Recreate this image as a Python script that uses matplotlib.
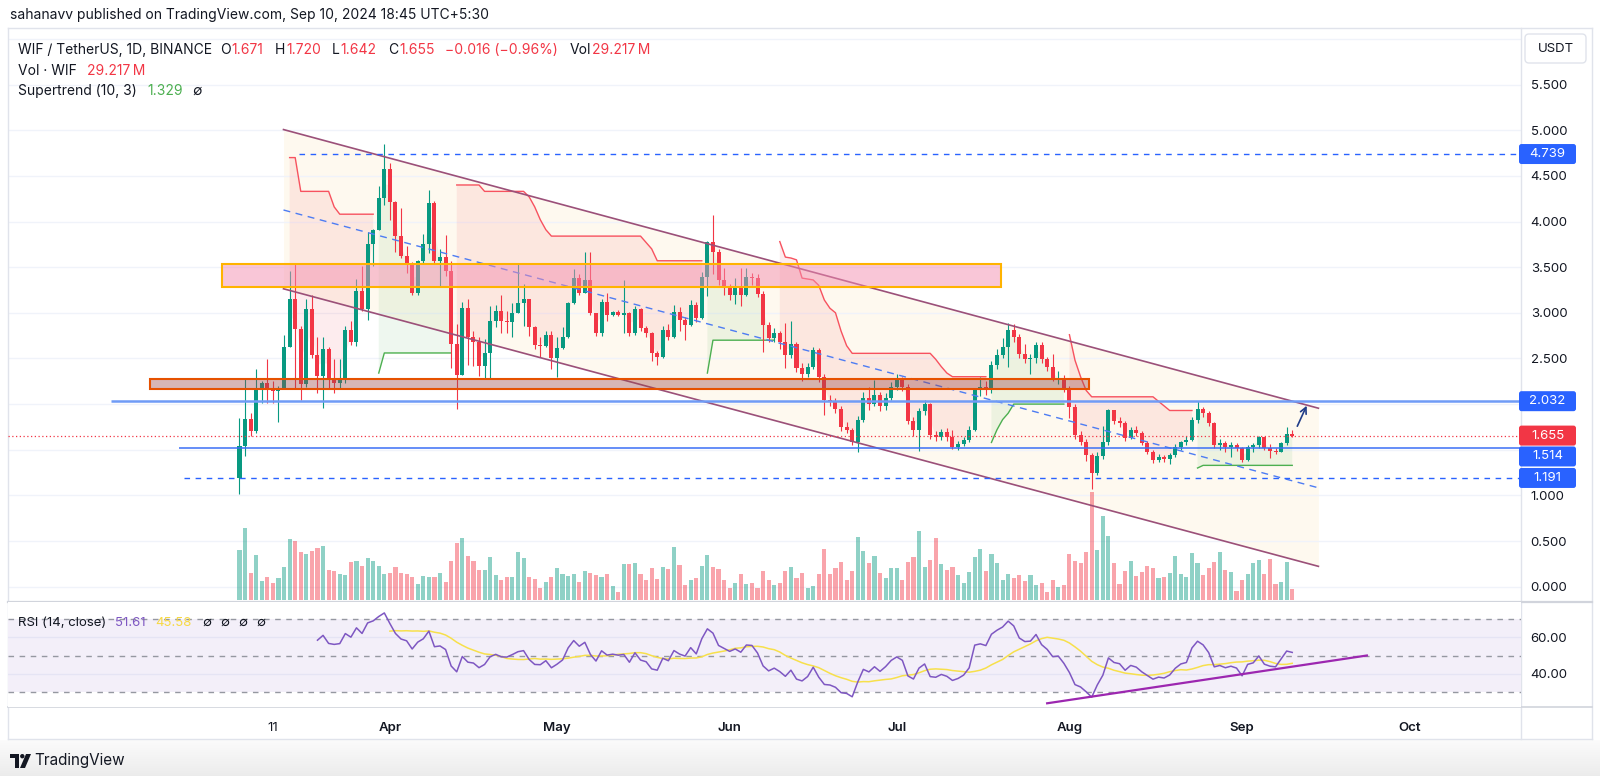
import numpy as np
import pandas as pd
import matplotlib
matplotlib.use("Agg")
import matplotlib.pyplot as plt
from matplotlib.patches import Rectangle, FancyBboxPatch, Polygon, Circle
from matplotlib.transforms import IdentityTransform
from matplotlib.lines import Line2D

plt.rcParams["font.family"] = ["Inter", "DejaVu Sans"]

# WIF / USDT daily candles (Binance), first bar = 2024-03-05
START = "2024-03-05"
first_open = 1.19
closes = [
    1.54, 1.84, 1.70, 2.15, 2.23, 2.17, 2.14, 2.18, 2.63, 3.15,
    2.82, 2.22, 3.04, 2.54, 2.31, 2.60, 2.27, 2.23, 2.27, 2.81,
    2.68, 3.24, 3.04, 3.75, 3.91, 4.26, 4.57, 4.21, 3.84, 3.62,
    3.55, 3.22, 3.57, 3.75, 4.20, 3.57, 3.61, 3.46, 2.66, 2.32,
    3.05, 2.73, 2.68, 2.42, 2.56, 2.91, 3.02, 2.91, 2.90, 3.00,
    3.11, 3.15, 2.84, 2.65, 2.64, 2.76, 2.51, 2.61, 2.73, 3.11,
    3.38, 3.22, 3.36, 3.00, 2.78, 3.12, 2.98, 3.01, 2.98, 3.00,
    2.78, 3.04, 2.83, 2.78, 2.56, 2.52, 2.81, 2.74, 3.01, 2.92,
    2.87, 3.09, 2.94, 3.39, 3.77, 3.67, 3.36, 3.28, 3.20, 3.27,
    3.19, 3.39, 3.38, 3.21, 2.87, 2.72, 2.78, 2.68, 2.54, 2.66,
    2.39, 2.33, 2.41, 2.59, 2.30, 2.05, 2.03, 1.95, 1.75, 1.72,
    1.59, 1.83, 2.07, 2.00, 2.10, 1.98, 2.07, 2.19, 2.26, 2.19,
    1.81, 1.72, 1.92, 2.00, 1.66, 1.64, 1.69, 1.64, 1.53, 1.56,
    1.61, 1.72, 2.16, 2.19, 2.16, 2.43, 2.54, 2.63, 2.81, 2.74,
    2.55, 2.49, 2.50, 2.65, 2.49, 2.41, 2.28, 2.29, 2.16, 1.97,
    1.66, 1.59, 1.44, 1.25, 1.43, 1.59, 1.93, 1.82, 1.79, 1.63,
    1.72, 1.68, 1.57, 1.48, 1.39, 1.42, 1.40, 1.44, 1.53, 1.59,
    1.61, 1.83, 1.95, 1.90, 1.79, 1.55, 1.57, 1.53, 1.55, 1.52,
    1.39, 1.53, 1.55, 1.64, 1.52, 1.49, 1.48, 1.57, 1.671, 1.655,
]
highs = [
    1.85, 2.29, 1.90, 2.38, 2.25, 2.49, 2.25, 2.20, 2.76, 3.46,
    3.55, 2.85, 3.15, 3.20, 2.74, 2.74, 2.62, 2.49, 2.49, 2.85,
    2.91, 3.37, 3.51, 3.88, 3.92, 4.39, 4.85, 4.64, 4.22, 4.15,
    3.73, 3.56, 3.58, 3.86, 4.34, 4.22, 3.70, 3.85, 3.57, 2.88,
    3.12, 3.15, 2.80, 2.73, 2.71, 3.07, 3.09, 3.20, 3.02, 3.11,
    3.55, 3.32, 3.15, 2.86, 2.74, 2.80, 2.80, 2.73, 2.84, 3.12,
    3.48, 3.42, 3.67, 3.67, 3.00, 3.15, 3.22, 3.02, 3.03, 3.36,
    3.01, 3.07, 3.05, 2.86, 2.79, 2.58, 2.85, 2.88, 3.08, 3.06,
    2.95, 3.14, 3.12, 3.45, 3.79, 4.07, 3.70, 3.49, 3.32, 3.38,
    3.49, 3.49, 3.44, 3.43, 3.24, 2.90, 2.83, 2.80, 2.89, 2.91,
    2.68, 2.45, 2.45, 2.63, 2.61, 2.33, 2.10, 2.07, 1.98, 1.80,
    1.74, 1.87, 2.13, 2.19, 2.26, 2.13, 2.12, 2.24, 2.33, 2.30,
    2.22, 1.86, 1.96, 2.05, 2.01, 1.70, 1.73, 1.74, 1.72, 1.60,
    1.64, 1.76, 2.18, 2.30, 2.25, 2.47, 2.60, 2.72, 2.89, 2.88,
    2.77, 2.66, 2.55, 2.68, 2.68, 2.52, 2.55, 2.36, 2.32, 2.20,
    2.00, 1.70, 1.62, 1.46, 1.48, 1.76, 1.95, 1.94, 1.86, 1.82,
    1.75, 1.76, 1.70, 1.60, 1.50, 1.45, 1.44, 1.46, 1.56, 1.60,
    1.65, 1.86, 2.03, 1.97, 1.92, 1.80, 1.62, 1.60, 1.58, 1.57,
    1.53, 1.55, 1.57, 1.65, 1.64, 1.56, 1.52, 1.59, 1.75, 1.72,
]
lows = [
    1.01, 1.43, 1.65, 1.68, 2.01, 2.01, 2.01, 1.80, 2.16, 2.63,
    2.16, 2.05, 2.19, 2.50, 2.12, 1.96, 2.18, 2.12, 2.17, 2.23,
    2.65, 2.64, 3.02, 2.92, 3.51, 3.91, 4.18, 4.02, 3.67, 3.60,
    3.44, 3.20, 3.20, 3.55, 3.66, 3.53, 3.29, 3.40, 2.40, 1.95,
    2.32, 2.43, 2.42, 2.31, 2.27, 2.27, 2.84, 2.78, 2.78, 2.74,
    3.00, 2.85, 2.75, 2.60, 2.52, 2.62, 2.38, 2.30, 2.60, 2.72,
    3.10, 3.20, 3.22, 2.98, 2.75, 2.75, 2.91, 2.96, 2.96, 2.78,
    2.75, 2.76, 2.80, 2.74, 2.47, 2.43, 2.50, 2.70, 2.72, 2.80,
    2.70, 2.85, 2.90, 2.93, 3.18, 3.42, 3.30, 3.20, 3.14, 3.10,
    3.07, 3.18, 3.30, 3.17, 2.57, 2.68, 2.68, 2.60, 2.39, 2.50,
    2.35, 2.25, 2.30, 2.38, 2.24, 1.88, 1.98, 1.90, 1.71, 1.68,
    1.55, 1.48, 1.80, 1.93, 1.98, 1.92, 1.93, 2.04, 2.15, 2.14,
    1.78, 1.65, 1.49, 1.88, 1.62, 1.60, 1.61, 1.60, 1.51, 1.50,
    1.54, 1.59, 1.70, 2.09, 2.10, 2.12, 2.38, 2.50, 2.41, 2.68,
    2.50, 2.45, 2.33, 2.45, 2.45, 2.36, 2.25, 2.22, 2.13, 1.85,
    1.62, 1.55, 1.38, 1.07, 1.22, 1.40, 1.55, 1.78, 1.75, 1.60,
    1.62, 1.65, 1.55, 1.45, 1.35, 1.37, 1.37, 1.34, 1.42, 1.50,
    1.55, 1.60, 1.79, 1.86, 1.76, 1.52, 1.50, 1.48, 1.42, 1.49,
    1.37, 1.38, 1.48, 1.52, 1.50, 1.41, 1.45, 1.47, 1.55, 1.642,
]
# volume in millions of WIF
volumes = [
    136, 196, 75, 123, 53, 64, 46, 59, 89, 166,
    160, 132, 126, 135, 141, 147, 81, 78, 70, 68,
    104, 106, 93, 115, 106, 94, 70, 75, 89, 73,
    70, 64, 44, 65, 62, 64, 73, 49, 107, 156,
    169, 120, 107, 83, 81, 118, 68, 55, 62, 62,
    131, 114, 64, 58, 33, 50, 62, 87, 70, 66,
    70, 49, 78, 75, 69, 62, 71, 38, 23, 99,
    97, 101, 71, 55, 87, 56, 91, 85, 146, 96,
    41, 55, 59, 93, 123, 89, 84, 55, 32, 46,
    70, 44, 46, 33, 78, 54, 40, 46, 80, 89,
    59, 75, 34, 38, 71, 139, 71, 86, 105, 55,
    79, 171, 134, 102, 120, 73, 59, 86, 87, 55,
    105, 118, 189, 89, 109, 169, 98, 82, 89, 69,
    46, 76, 118, 138, 79, 126, 102, 55, 71, 59,
    68, 51, 69, 40, 46, 23, 55, 36, 40, 126,
    106, 102, 131, 295, 136, 228, 175, 102, 44, 80,
    107, 66, 76, 94, 87, 60, 62, 73, 120, 71,
    63, 127, 102, 69, 87, 105, 131, 82, 76, 25,
    55, 71, 100, 108, 71, 111, 44, 50, 104, 29.217,
]
# Supertrend (10, 3) line as drawn, first 9 bars empty
supertrend = [
    None, None, None, None, None, None, None, None, None,
    4.70, 4.70, 4.33, 4.33, 4.33, 4.33, 4.33, 4.33, 4.16, 4.08,
    4.08, 4.08, 4.08, 4.08, 4.08, 4.08,
    2.34, 2.56, 2.56, 2.56, 2.56, 2.56, 2.56, 2.56, 2.56, 2.56,
    2.56, 2.56, 2.56, 2.56,
    4.40, 4.40, 4.40, 4.40, 4.40, 4.33, 4.33, 4.33, 4.33, 4.33,
    4.33, 4.33, 4.33, 4.27, 4.16, 4.02, 3.91, 3.84, 3.84, 3.84,
    3.84, 3.84, 3.84, 3.84, 3.84, 3.84, 3.84, 3.84, 3.84, 3.84,
    3.84, 3.84, 3.84, 3.84, 3.77, 3.70, 3.57, 3.57, 3.57, 3.57,
    3.57, 3.57, 3.57, 3.57, 3.57,
    2.34, 2.70, 2.70, 2.70, 2.70, 2.70, 2.70, 2.70, 2.70, 2.70,
    2.70, 2.70, 2.70,
    3.78, 3.61, 3.60, 3.58, 3.38, 3.37, 3.36, 3.30, 3.14, 3.05,
    3.00, 2.80, 2.64, 2.556, 2.556, 2.556, 2.556, 2.556, 2.556, 2.556,
    2.556, 2.556, 2.556, 2.556, 2.556, 2.556, 2.556, 2.556, 2.49, 2.41,
    2.34, 2.30, 2.30, 2.30, 2.30, 2.30, 2.30, 2.30,
    1.58, 1.72, 1.83, 1.90, 2.00, 2.00, 2.00, 2.00, 2.00, 2.00,
    2.00, 2.00, 2.00, 2.00,
    2.76, 2.48, 2.30, 2.15, 2.08, 2.08, 2.08, 2.08, 2.08, 2.08,
    2.08, 2.08, 2.08, 2.08, 2.08, 2.08, 2.03, 1.98, 1.93, 1.93,
    1.93, 1.93, 1.93,
    1.30, 1.329, 1.329, 1.329, 1.329, 1.329, 1.329, 1.329, 1.329, 1.329,
    1.329, 1.329, 1.329, 1.329, 1.329, 1.329, 1.329, 1.329,
]
st_green_runs = [(25, 38), (84, 96), (135, 148), (172, 189)]

tick_dates = ["2024-03-11", "2024-04-01", "2024-05-01", "2024-06-01",
              "2024-07-01", "2024-08-01", "2024-09-01", "2024-10-01"]
tick_names = ["11", "Apr", "May", "Jun", "Jul", "Aug", "Sep", "Oct"]

# drawings (bar index, price)
channel_x = [7.9, 193.7]
channel_top = [5.007, 1.955]
channel_mid = [4.126, 1.083]
channel_bottom = [3.263, 0.223]
pink_zone = (-3.1, 136.7, 3.286, 3.531)
brown_zone = (-16.1, 152.5, 2.167, 2.275)
dashed_levels = [(4.739, 10.7), (1.191, -10.0)]
solid_levels = [(2.032, -23.0, 1.8, "#6f9bf6"), (1.514, -10.9, 1.1, "#3b6ff5")]
last_price = 1.655
arrow_from = (189.7, 1.73)
arrow_to = (191.8, 2.01)
rsi_trend_x = [145.0, 202.4]
rsi_trend_y = [23.6, 50.0]

# ---- layout (pixels, top-left origin) ----
W, H = 1600, 776
X0_PX, BAR_PX = 239.5, 5.57
ZERO_PX, PRICE_PX = 586.7, 91.3
VOL_PER_PX = 2.73
PL, PR = 8, 1521
PT, PB = 28, 602
RT, RB = 602, 707
FR, FB = 1592, 739

GREEN = "#089981"
RED = "#f23645"
BLUE = "#2962ff"
DARK = "#131722"
BORDER = "#e0e3eb"
PURPLE = "#7e57c2"


def frac_rect(x0, y0, x1, y1):
    return [x0 / W, 1 - y1 / H, (x1 - x0) / W, (y1 - y0) / H]


def pline(x0, y0, x1, y1, **kw):
    fig.add_artist(Line2D([x0 / W, x1 / W], [1 - y0 / H, 1 - y1 / H],
                          transform=fig.transFigure, **kw))


n = len(closes)
x = np.arange(n)
c = np.array(closes)
h = np.array(highs)
l = np.array(lows)
o = np.array([first_open] + closes[:-1])
vol = np.array(volumes)
up = c >= o
dates = pd.date_range(START, periods=n, freq="D")

st = np.array(supertrend, dtype=float)
st_green = np.zeros(n, dtype=bool)
for a, b in st_green_runs:
    st_green[a:b + 1] = True
st_red = ~st_green & ~np.isnan(st)


def rma(vals, length):
    out = np.full(len(vals), np.nan)
    out[length - 1] = vals[:length].mean()
    for i in range(length, len(vals)):
        out[i] = (out[i - 1] * (length - 1) + vals[i]) / length
    return out


# RSI(14) of the closes and its 14-bar average
chg = np.diff(c)
avg_gain = rma(np.clip(chg, 0, None), 14)
avg_loss = rma(np.clip(-chg, 0, None), 14)
rsi = np.r_[np.nan, 100 - 100 / (1 + avg_gain / avg_loss)]
rsi_ma = pd.Series(rsi).rolling(14).mean().to_numpy()

# ---- figure ----
fig = plt.figure(figsize=(W / 100, H / 100), dpi=100)
fig.patch.set_facecolor("white")

xlim = ((PL - X0_PX) / BAR_PX, (PR - X0_PX) / BAR_PX)
ylim = ((ZERO_PX - PB) / PRICE_PX, (ZERO_PX - PT) / PRICE_PX)

ax_bg = fig.add_axes(frac_rect(PL, PT, PR, PB), zorder=0)
ax_vol = fig.add_axes(frac_rect(PL, PT, PR, PB), zorder=1)
ax = fig.add_axes(frac_rect(PL, PT, PR, PB), zorder=2)
ax_rsi = fig.add_axes(frac_rect(PL, RT, PR, RB), zorder=2)
for a in (ax_bg, ax_vol, ax, ax_rsi):
    a.set_xlim(xlim)
    for s in a.spines.values():
        s.set_visible(False)
for a in (ax_bg, ax_vol):
    a.set_xticks([])
    a.set_yticks([])
ax_vol.patch.set_alpha(0)
ax.patch.set_alpha(0)
ax_bg.set_ylim(ylim)
ax.set_ylim(ylim)
ax_vol.set_ylim(-(PB - 600) * VOL_PER_PX, (600 - PT) * VOL_PER_PX)

# grid + channel background
for v in np.arange(0, 6.01, 0.5):
    ax_bg.axhline(v, color="#f0f3fa", lw=1)
ax_bg.fill_between(channel_x, channel_bottom, channel_top, color="#fdf3dc", alpha=0.45, lw=0)

# volume
vcol = np.where(up, GREEN, RED)
ax_vol.bar(x, vol, width=0.74, color=vcol, alpha=0.45, lw=0)

# supertrend
body_mid = (o + c) / 2
ax.fill_between(x, body_mid, st, where=st_red, color=RED, alpha=0.09, lw=0, zorder=1)
ax.fill_between(x, body_mid, st, where=st_green, color="#4caf50", alpha=0.09, lw=0, zorder=1)
ax.plot(x, np.where(st_red, st, np.nan), color="#f7525f", lw=1.0, zorder=2)
ax.plot(x, np.where(st_green, st, np.nan), color="#4caf50", lw=1.0, zorder=2)

# candles
ccol = np.where(up, GREEN, RED)
ax.vlines(x, l, h, colors=ccol, lw=0.8, zorder=3)
body = np.where(np.abs(c - o) < 0.006, 0.006, c - o)
ax.bar(x, body, bottom=o, width=0.72, color=ccol, lw=0, zorder=3.1)

# channel
ax.plot(channel_x, channel_top, color="#9b5079", lw=1.2, zorder=4)
ax.plot(channel_x, channel_bottom, color="#9b5079", lw=1.2, zorder=4)
ax.plot(channel_x, channel_mid, color="#4d7cf3", lw=1.0, ls=(0, (5, 4)), zorder=4)

# horizontal levels
for price, start in dashed_levels:
    ax.hlines(price, start, xlim[1], color=BLUE, lw=1.0, linestyles=(0, (4, 4)), zorder=4)
for price, start, lw, col in solid_levels:
    ax.hlines(price, start, xlim[1], color=col, lw=lw, zorder=4)
ax.axhline(last_price, color=RED, lw=0.9, ls=(0, (1, 2)), zorder=4)

# zones
x0, x1, y0, y1 = pink_zone
ax.add_patch(Rectangle((x0, y0), x1 - x0, y1 - y0, fc="#f48fb1", alpha=0.5, lw=0, zorder=5))
ax.add_patch(Rectangle((x0, y0), x1 - x0, y1 - y0, fc="none", ec="#ffb300", lw=1.5, zorder=5))
x0, x1, y0, y1 = brown_zone
ax.add_patch(Rectangle((x0, y0), x1 - x0, y1 - y0, fc="#9c4a4a", alpha=0.4, lw=0, zorder=5))
ax.add_patch(Rectangle((x0, y0), x1 - x0, y1 - y0, fc="none", ec="#e65100", lw=1.5, zorder=5))

ax.annotate("", xy=arrow_to, xytext=arrow_from,
            arrowprops=dict(arrowstyle="->", color="#1f3c88", lw=1.2, mutation_scale=11),
            zorder=6)

# price axis labels
price_ticks = [0, 0.5, 1.0, 2.5, 3.0, 3.5, 4.0, 4.5, 5.0, 5.5]
ax.set_xticks([])
ax.yaxis.tick_right()
ax.set_yticks(price_ticks)
ax.set_yticklabels([f"{v:.3f}" for v in price_ticks])
ax.tick_params(axis="y", length=0, pad=7, labelsize=9.5, labelcolor=DARK)

# ---- RSI pane ----
ax_rsi.set_ylim(21.55, 79.56)
for v in (40, 60):
    ax_rsi.axhline(v, color="#f0f3fa", lw=1, zorder=0)
ax_rsi.axhspan(30, 70, color=PURPLE, alpha=0.09, lw=0, zorder=1)
for v in (70, 50, 30):
    ax_rsi.axhline(v, color="#9598a1", lw=1, ls=(0, (4, 4)), zorder=2)
ax_rsi.plot(x, rsi_ma, color="#f7e04b", lw=1.1, zorder=3)
ax_rsi.plot(x, rsi, color=PURPLE, lw=1.1, zorder=4)
ax_rsi.plot(rsi_trend_x, rsi_trend_y, color="#9c27b0", lw=1.6, zorder=5)
ax_rsi.yaxis.tick_right()
ax_rsi.set_yticks([40, 60])
ax_rsi.set_yticklabels(["40.00", "60.00"])
ax_rsi.tick_params(axis="y", length=0, pad=7, labelsize=9.5, labelcolor=DARK)
tick_pos = (pd.to_datetime(tick_dates) - dates[0]).days
ax_rsi.set_xticks(tick_pos)
ax_rsi.set_xticklabels(tick_names)
ax_rsi.tick_params(axis="x", length=0, pad=11, labelsize=9.5, labelcolor=DARK)
for lbl in ax_rsi.get_xticklabels():
    if lbl.get_text() != "11":
        lbl.set_fontweight("semibold")

# ---- frame ----
for (a, b, cc, d) in [(PL, PT, FR, PT), (PL, FB, FR, FB), (PL, PT, PL, FB),
                      (FR, PT, FR, FB), (PR, PT, PR, FB)]:
    pline(a, b, cc, d, color=BORDER, lw=1)
pline(PL, PB, FR, PB, color="#d1d4dc", lw=1.6)
pline(PL, RB, FR, RB, color="#d1d4dc", lw=1.2)

# price tags on the axis
tags = [(4.739, "4.739", BLUE, 0), (2.032, "2.032", BLUE, 0), (1.655, "1.655", RED, 0),
        (1.514, "1.514", BLUE, -8), (1.191, "1.191", BLUE, 0)]
for price, txt, col, dy in tags:
    yd = ax.transData.transform((0, price))[1] + dy
    fig.add_artist(FancyBboxPatch((PR - 2, yd - 10), 57, 20,
                                  boxstyle="round,pad=0,rounding_size=2.5",
                                  fc=col, ec="none", transform=IdentityTransform(), zorder=10))
    fig.text((PR + 26.5) / W, yd / H, txt, color="white", ha="center", va="center",
             fontsize=9.5, zorder=11)

fig.add_artist(FancyBboxPatch((1525, H - 63), 61, 29, boxstyle="round,pad=0,rounding_size=4",
                              fc="white", ec=BORDER, lw=1, transform=IdentityTransform(), zorder=10))
fig.text(1555.5 / W, 1 - 48.5 / H, "USDT", color=DARK, fontsize=9.5, ha="center", va="center",
         zorder=11)

# ---- legend texts, laid out left to right ----
renderer = fig.canvas.get_renderer()


def chain(y, parts, x=18, size=10):
    for s, col, gap in parts:
        t = fig.text(x / W, 1 - y / H, s, color=col, fontsize=size, va="center", ha="left")
        x = t.get_window_extent(renderer).x1 + gap


fig.text(10 / W, 1 - 15.5 / H, "sahanavv published on TradingView.com, Sep 10, 2024 18:45 UTC+5:30",
         color=DARK, fontsize=10, va="center", ha="left")

chain(50, [("WIF / TetherUS, 1D, BINANCE", DARK, 8), ("O", DARK, 1), ("1.671", RED, 11),
           ("H", DARK, 1), ("1.720", RED, 11), ("L", DARK, 1), ("1.642", RED, 11),
           ("C", DARK, 1), ("1.655", RED, 11), ("\u22120.016 (\u22120.96%)", RED, 11),
           ("Vol", DARK, 1), ("29.217\u2009M", RED, 0)])
chain(71, [("Vol \u00b7 WIF", DARK, 10), ("29.217\u2009M", RED, 0)])
chain(91, [("Supertrend (10, 3)", DARK, 10), ("1.329", "#4caf50", 10), ("\u2205", DARK, 0)])
chain(623, [("RSI (14, close)", DARK, 9), ("51.61", PURPLE, 9), ("45.58", "#f7d944", 11),
            ("\u2205", DARK, 9), ("\u2205", DARK, 9), ("\u2205", DARK, 9), ("\u2205", DARK, 0)],
      size=9.5)

# bottom band with logo
ax_band = fig.add_axes(frac_rect(0, 740, W, H), zorder=-1)
grad = np.linspace(0.985, 0.925, 50).reshape(-1, 1)
ax_band.imshow(np.dstack([grad, grad, grad]), aspect="auto", extent=(0, 1, 0, 1))
ax_band.axis("off")

ax_logo = fig.add_axes(frac_rect(10, 754, 31, 768), zorder=5)
ax_logo.set_xlim(0, 21)
ax_logo.set_ylim(0, 14)
ax_logo.axis("off")
ax_logo.add_patch(Polygon([(0, 14), (9, 14), (9, 0), (5, 0), (5, 10), (0, 10)], fc=DARK, lw=0))
ax_logo.add_patch(Circle((12.3, 11.8), 2.2, fc=DARK, lw=0))
ax_logo.add_patch(Polygon([(16, 14), (21, 14), (15, 0), (10, 0)], fc=DARK, lw=0))
fig.text(34 / W, 1 - 761 / H, "TradingView", color=DARK, fontsize=11, va="center", ha="left")

fig.savefig("out.png", dpi=100, facecolor="white")
